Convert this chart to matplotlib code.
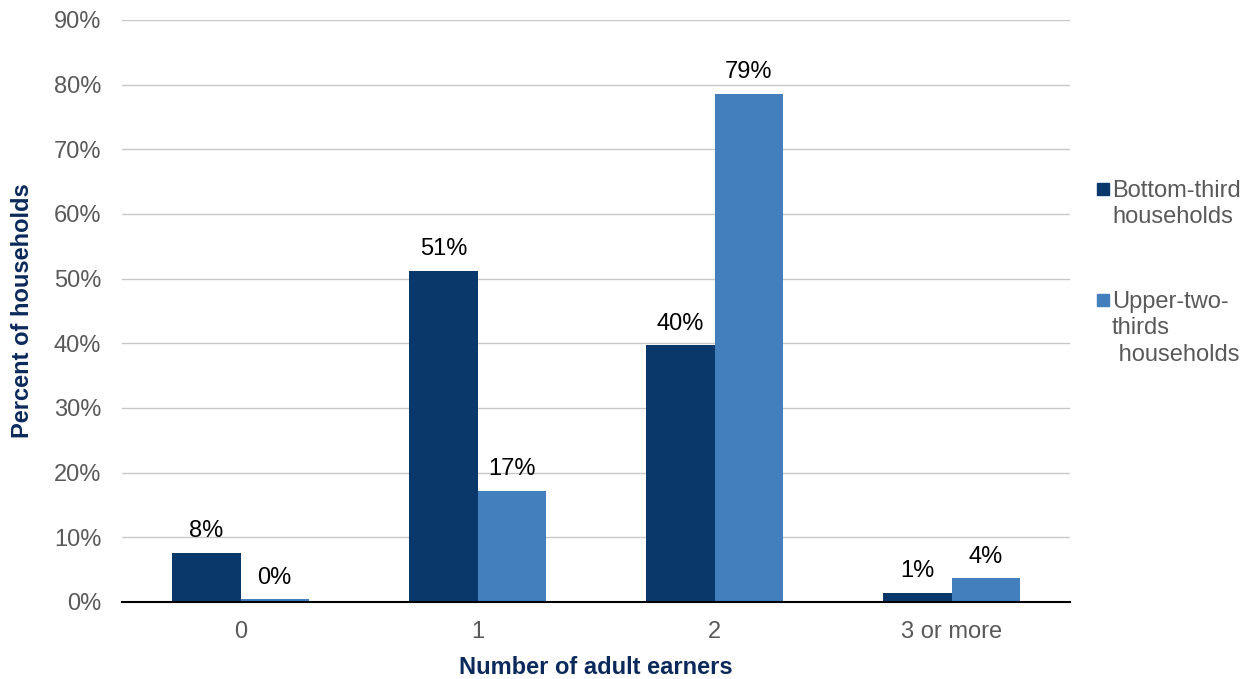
import matplotlib.pyplot as plt
from matplotlib.patches import Rectangle
import numpy as np

categories = ['0', '1', '2', '3 or more']
bottom_third = [7.6, 51.2, 39.7, 1.4]
upper_two_thirds = [0.45, 17.2, 78.6, 3.7]
bottom_labels = ['8%', '51%', '40%', '1%']
upper_labels = ['0%', '17%', '79%', '4%']
series_names = ['Bottom-third\nhouseholds', 'Upper-two-\nthirds\n households']

plt.rcParams['font.family'] = ['Liberation Sans', 'DejaVu Sans']

W, H = 1256, 679
fig = plt.figure(figsize=(W / 100, H / 100), dpi=100)
ax = fig.add_axes([122 / W, 1 - 602 / H, 948 / W, 582 / H])

x = np.arange(len(categories))
w = 0.287
dark = '#0a386b'
light = '#427fbc'
fs = 17

b1 = ax.bar(x - w / 2, bottom_third, w, color=dark, zorder=3)
b2 = ax.bar(x + w / 2, upper_two_thirds, w, color=light, zorder=3)

for bars, labels in [(b1, bottom_labels), (b2, upper_labels)]:
    for rect, lab in zip(bars, labels):
        ax.text(rect.get_x() + rect.get_width() / 2, rect.get_height() + 2.4, lab,
                ha='center', va='baseline', fontsize=fs, color='black')

ax.set_xlim(-0.5, 3.5)
ax.set_ylim(0, 90)
ax.set_yticks(range(0, 91, 10))
ax.set_yticklabels([f'{v}%' for v in range(0, 91, 10)])
ax.set_xticks(x)
ax.set_xticklabels(categories)
ax.tick_params(axis='y', length=0, labelsize=fs, labelcolor='#595959', pad=15)
ax.tick_params(axis='x', length=0, labelsize=fs, labelcolor='#595959', pad=14)
ax.yaxis.grid(True, color='#c8c8c8', linewidth=1, zorder=0)
for s in ['top', 'right', 'left']:
    ax.spines[s].set_visible(False)
ax.spines['bottom'].set_color('black')
ax.spines['bottom'].set_linewidth(1.5)
ax.spines['bottom'].set_zorder(4)

ax.set_xlabel('Number of adult earners', fontsize=fs, fontweight='bold', color='#0b2a5b', labelpad=9)
ax.set_ylabel('Percent of households', fontsize=fs, fontweight='bold', color='#0b2a5b', labelpad=14)

# legend drawn by hand: square sits on the first text line
for (sq_y, txt_y), col, name in zip([(183, 180), (294, 291)], [dark, light], series_names):
    fig.patches.append(Rectangle((1097 / W, 1 - (sq_y + 12) / H), 12 / W, 12 / H,
                                 transform=fig.transFigure, color=col))
    fig.text(1112 / W, 1 - txt_y / H, name, fontsize=fs, color='#595959',
             ha='left', va='top', linespacing=1.26)

plt.savefig('out.png', dpi=100)
